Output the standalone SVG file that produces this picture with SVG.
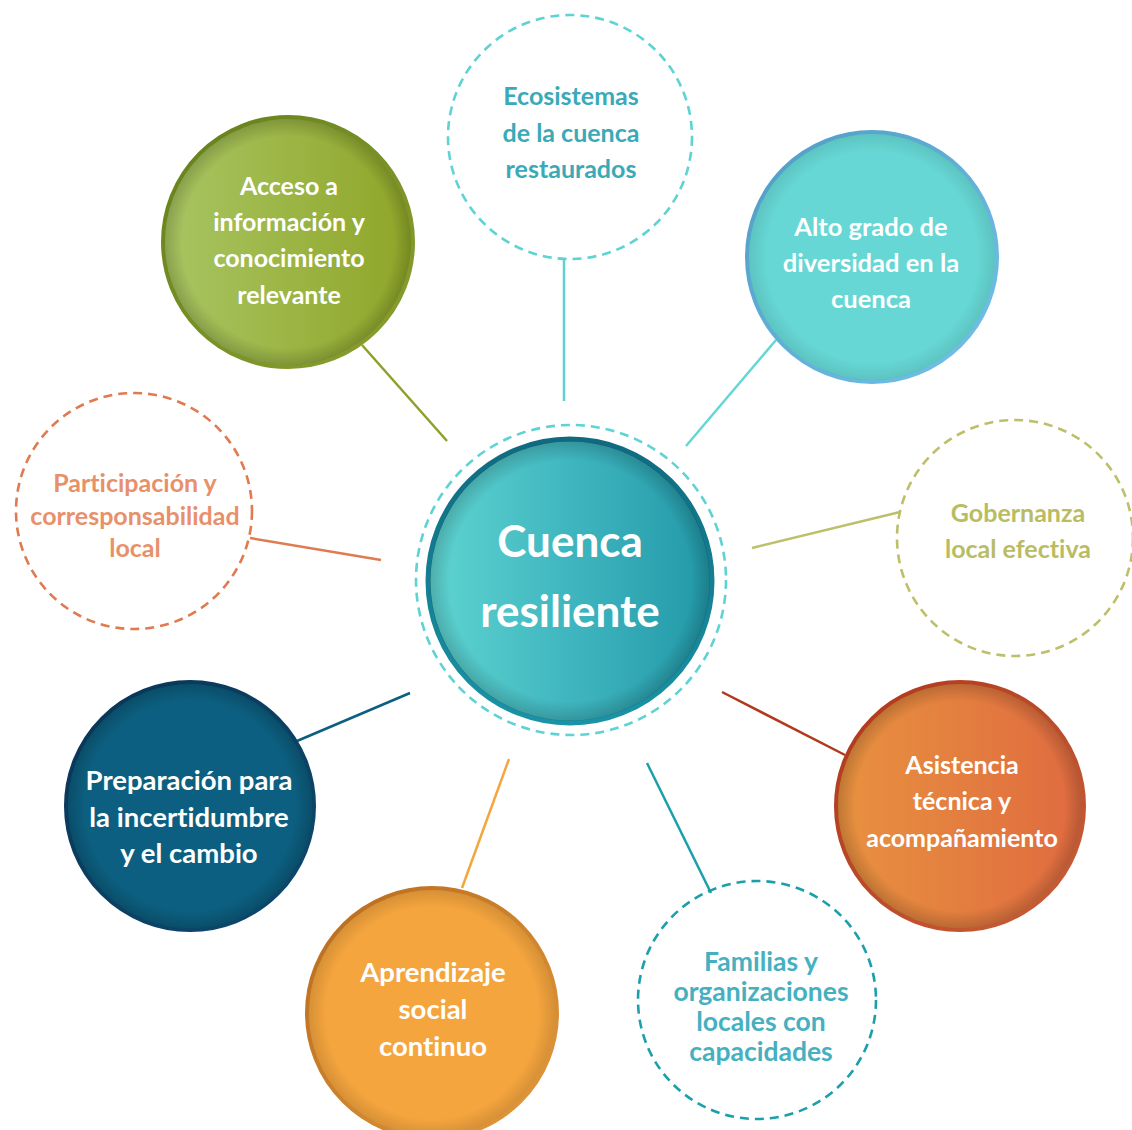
<svg xmlns="http://www.w3.org/2000/svg" width="1132" height="1130" viewBox="0 0 1132 1130">
<defs>
<style>
.t{font-family:Lato,"Liberation Sans",sans-serif;font-weight:bold;font-size:25px;text-anchor:middle;font-variant-ligatures:none;font-feature-settings:"liga" 0}
.w{fill:#ffffff}
.big{font-size:27.5px}
.dash{fill:none;stroke-width:2.6;stroke-dasharray:9 6}
.conn line{stroke-width:2.5}
.rim{fill:url(#rim)}
</style>
<radialGradient id="rim" cx="0.5" cy="0.5" r="0.5">
<stop offset="0.86" stop-color="#000" stop-opacity="0"/>
<stop offset="1" stop-color="#000" stop-opacity="0.18"/>
</radialGradient>
<linearGradient id="gC" x1="0" y1="0" x2="1" y2="0">
<stop offset="0" stop-color="#5fd4d1"/>
<stop offset="0.5" stop-color="#3fb6bf"/>
<stop offset="1" stop-color="#2298a8"/>
</linearGradient>
<linearGradient id="sC" x1="0" y1="0" x2="0" y2="1">
<stop offset="0" stop-color="#0f6a80"/>
<stop offset="1" stop-color="#1a93a6"/>
</linearGradient>
<linearGradient id="gA" x1="0" y1="0" x2="1" y2="0">
<stop offset="0" stop-color="#a8c562"/>
<stop offset="1" stop-color="#8fa528"/>
</linearGradient>
<linearGradient id="sA" x1="0" y1="0" x2="1" y2="1">
<stop offset="0" stop-color="#65801a"/>
<stop offset="1" stop-color="#8aa030"/>
</linearGradient>
<linearGradient id="sB" x1="0" y1="0" x2="1" y2="1">
<stop offset="0" stop-color="#4f9cc4"/>
<stop offset="1" stop-color="#72c2ea"/>
</linearGradient>
<linearGradient id="gD" x1="0" y1="0" x2="1" y2="0">
<stop offset="0" stop-color="#e8923f"/>
<stop offset="1" stop-color="#df6a40"/>
</linearGradient>
<linearGradient id="sD" x1="0" y1="0" x2="1" y2="1">
<stop offset="0" stop-color="#b0361a"/>
<stop offset="1" stop-color="#c86038"/>
</linearGradient>
<linearGradient id="sE" x1="0" y1="0" x2="1" y2="1">
<stop offset="0" stop-color="#0a3456"/>
<stop offset="1" stop-color="#0c4a6e"/>
</linearGradient>
<linearGradient id="sF" x1="0" y1="0" x2="1" y2="1">
<stop offset="0" stop-color="#b86a1c"/>
<stop offset="1" stop-color="#e39a3c"/>
</linearGradient>
</defs>
<rect width="1132" height="1130" fill="#ffffff"/>

<g id="connectors" class="conn">
<line x1="362" y1="345" x2="447" y2="441" stroke="#8fa02a"/>
<line x1="564" y1="258" x2="564" y2="401" stroke="#5fd3d3"/>
<line x1="776" y1="340" x2="686" y2="446" stroke="#64d6d4"/>
<line x1="900" y1="512" x2="752" y2="548" stroke="#bdbf6a"/>
<line x1="845" y1="755" x2="722" y2="692" stroke="#b03a1e"/>
<line x1="711" y1="893" x2="647" y2="763" stroke="#1a9fab"/>
<line x1="462" y1="888" x2="509" y2="759" stroke="#f5a53e"/>
<line x1="297" y1="741" x2="410" y2="693" stroke="#0c5f80"/>
<line x1="250" y1="538" x2="381" y2="560" stroke="#e07a50"/>
</g>

<g id="center">
<circle cx="571" cy="580" r="155" class="dash" stroke="#5fd3d3"/>
<circle cx="570" cy="581" r="142" fill="url(#gC)" stroke="url(#sC)" stroke-width="5"/>
<circle cx="570" cy="581" r="140" class="rim"/>
<text class="t w" x="570" y="557" style="font-size:44px">Cuenca</text>
<text class="t w" x="570" y="627" style="font-size:44px">resiliente</text>
</g>

<g id="acceso">
<circle cx="288" cy="242" r="125" fill="url(#gA)" stroke="url(#sA)" stroke-width="4"/>
<circle cx="288" cy="242" r="123" class="rim"/>
<text class="t w" x="289" y="195">Acceso a</text>
<text class="t w" x="289" y="231">información y</text>
<text class="t w" x="289" y="267">conocimiento</text>
<text class="t w" x="289" y="304">relevante</text>
</g>

<g id="ecosistemas">
<circle cx="570" cy="137" r="122" class="dash" stroke="#5fd3d3"/>
<text class="t" x="571" y="105" fill="#3aa9b8">Ecosistemas</text>
<text class="t" x="571" y="142" fill="#3aa9b8">de la cuenca</text>
<text class="t" x="571" y="178" fill="#3aa9b8">restaurados</text>
</g>

<g id="alto">
<circle cx="872" cy="257" r="125" fill="#66d7d4" stroke="url(#sB)" stroke-width="4"/>
<circle cx="872" cy="257" r="123" class="rim" opacity="0.5"/>
<text class="t w" x="871" y="236" style="font-size:25.5px">Alto grado de</text>
<text class="t w" x="871" y="272" style="font-size:25.5px">diversidad en la</text>
<text class="t w" x="871" y="308" style="font-size:25.5px">cuenca</text>
</g>

<g id="participacion">
<circle cx="134" cy="511" r="118" class="dash" stroke="#e07a50"/>
<text class="t" x="135" y="492" fill="#e8906a">Participación y</text>
<text class="t" x="135" y="525" fill="#e8906a">corresponsabilidad</text>
<text class="t" x="135" y="557" fill="#e8906a">local</text>
</g>

<g id="gobernanza">
<circle cx="1015" cy="538" r="118" class="dash" stroke="#bdbf6a"/>
<text class="t" x="1018" y="522" fill="#b9bc62">Gobernanza</text>
<text class="t" x="1018" y="558" fill="#b9bc62">local efectiva</text>
</g>

<g id="asistencia">
<circle cx="960" cy="806" r="124" fill="url(#gD)" stroke="url(#sD)" stroke-width="4"/>
<circle cx="960" cy="806" r="122" class="rim"/>
<text class="t w" x="962" y="774">Asistencia</text>
<text class="t w" x="962" y="810">técnica y</text>
<text class="t w" x="962" y="847">acompañamiento</text>
</g>

<g id="familias">
<circle cx="757" cy="1000" r="119" class="dash" stroke="#1a9fab"/>
<text class="t" x="761" y="971" fill="#45b0bf" style="font-size:26.5px">Familias y</text>
<text class="t" x="761" y="1001" fill="#45b0bf" style="font-size:26.5px">organizaciones</text>
<text class="t" x="761" y="1031" fill="#45b0bf" style="font-size:26.5px">locales con</text>
<text class="t" x="761" y="1061" fill="#45b0bf" style="font-size:26.5px">capacidades</text>
</g>

<g id="aprendizaje">
<circle cx="432" cy="1013" r="125" fill="#f5a53e" stroke="url(#sF)" stroke-width="4"/>
<circle cx="432" cy="1013" r="123" class="rim" opacity="0.7"/>
<text class="t w big" x="433" y="982">Aprendizaje</text>
<text class="t w big" x="433" y="1019">social</text>
<text class="t w big" x="433" y="1056">continuo</text>
</g>

<g id="preparacion">
<circle cx="190" cy="806" r="124" fill="#0c5f80" stroke="url(#sE)" stroke-width="4"/>
<circle cx="190" cy="806" r="122" class="rim"/>
<text class="t w big" x="189" y="790">Preparación para</text>
<text class="t w big" x="189" y="827">la incertidumbre</text>
<text class="t w big" x="189" y="863">y el cambio</text>
</g>
</svg>
